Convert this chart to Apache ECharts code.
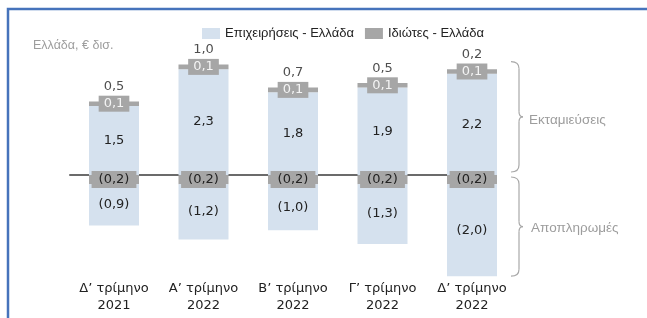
<!DOCTYPE html>
<html>
<head>
<meta charset="utf-8">
<script src="https://cdn.jsdelivr.net/npm/echarts@6/dist/echarts.min.js"></script>
<style>
    html, body { margin: 0; padding: 0; background: #fff; }
    #chart { width: 647px; height: 318px; }
</style>
</head>
<body>
<div id="chart"></div>
<script>
    // κατηγορίες (τρίμηνα)
    var categories = ['Δ’ τρίμηνο\n2021', 'Α’ τρίμηνο\n2022', 'Β’ τρίμηνο\n2022', 'Γ’ τρίμηνο\n2022', 'Δ’ τρίμηνο\n2022'];
    // εκταμιεύσεις
    var bizDisb = [1.5, 2.3, 1.8, 1.9, 2.2];
    var indDisb = [0.1, 0.1, 0.1, 0.1, 0.1];
    // αποπληρωμές
    var indRepay = [-0.2, -0.2, -0.2, -0.2, -0.2];
    var bizRepay = [-0.9, -1.2, -1.0, -1.3, -2.0];
    // καθαρή ροή (ετικέτα πάνω από τη στήλη)
    var netFlow = [0.5, 1.0, 0.7, 0.5, 0.2];
    var legendNames = ['Επιχειρήσεις - Ελλάδα', 'Ιδιώτες - Ελλάδα'];
    var sideLabels = ['Εκταμιεύσεις', 'Αποπληρωμές'];
    var unitLabel = 'Ελλάδα, € δισ.';

    var BLUE = '#d5e1ee';
    var GREY = '#a6a6a6';
    var NUM_FONT = 'DejaVu Sans';
    var TXT_FONT = 'Liberation Sans';

    // 1.5 -> "1,5", -0.2 -> "(0,2)"
    function fmt(v) {
        var s = Math.abs(v).toFixed(1).replace('.', ',');
        return v < 0 ? '(' + s + ')' : s;
    }

    var posTop = bizDisb.map(function (v, i) { return +(v + indDisb[i]).toFixed(2); });
    var negBottom = bizRepay.map(function (v, i) { return +(v + indRepay[i]).toFixed(2); });

    var chart = echarts.init(document.getElementById('chart'));

    var numLabel = {
        show: true,
        position: 'inside',
        fontFamily: NUM_FONT,
        fontSize: 13,
        color: '#222',
        formatter: function (p) { return fmt(p.value); }
    };

    var option = {
        animation: false,
        legend: {
            data: legendNames,
            left: 197,
            top: 22,
            itemWidth: 18,
            itemHeight: 11,
            itemGap: 11,
            icon: 'rect',
            textStyle: { fontFamily: TXT_FONT, fontSize: 13, color: '#222' }
        },
        grid: {
            left: 69.25,
            width: 447.5,
            top: 64.6,
            height: 211.6
        },
        xAxis: {
            type: 'category',
            data: categories,
            axisLine: { show: false },
            axisTick: { show: false },
            axisLabel: {
                interval: 0,
                margin: 4,
                fontFamily: NUM_FONT,
                fontSize: 13,
                lineHeight: 17,
                color: '#222'
            }
        },
        yAxis: {
            type: 'value',
            min: -2.2,
            max: 2.4,
            show: false,
            splitLine: { show: false }
        },
        series: [
            {
                name: legendNames[0],
                type: 'bar',
                stack: 'a',
                barWidth: 50,
                data: bizDisb,
                itemStyle: { color: BLUE },
                label: numLabel
            },
            {
                name: legendNames[1],
                type: 'bar',
                stack: 'a',
                data: indDisb,
                itemStyle: { color: GREY },
                label: Object.assign({}, numLabel, {
                    backgroundColor: GREY,
                    padding: [2, 5, 1, 5],
                    color: '#f4f4f4'
                })
            },
            {
                name: legendNames[1],
                type: 'bar',
                stack: 'a',
                data: indRepay,
                itemStyle: { color: GREY },
                label: Object.assign({}, numLabel, {
                    backgroundColor: GREY,
                    padding: [2, 7, 2, 7]
                })
            },
            {
                name: legendNames[0],
                type: 'bar',
                stack: 'a',
                data: bizRepay,
                itemStyle: { color: BLUE },
                label: numLabel
            },
            {
                // καθαρή ροή
                type: 'scatter',
                data: posTop,
                symbolSize: 0,
                silent: true,
                label: {
                    show: true,
                    position: 'top',
                    distance: 8,
                    fontFamily: NUM_FONT,
                    fontSize: 13,
                    color: '#222',
                    formatter: function (p) { return fmt(netFlow[p.dataIndex]); }
                }
            }
        ]
    };
    chart.setOption(option);

    // θέσεις από τους άξονες
    function px(i, v) { return chart.convertToPixel({ gridIndex: 0 }, [i, v]); }
    var last = categories.length - 1;
    var zeroY = px(0, 0)[1];
    var lineStart = px(0, 0)[0] - 44.75;
    var lineEnd = px(last, 0)[0] + 25;
    var topY = px(0, Math.max.apply(null, posTop))[1] - 3;
    var botY = px(0, Math.min.apply(null, negBottom))[1];
    var bx = px(last, 0)[0] + 39;

    // άγκιστρο: δύο ευθείες και τέσσερις καμπύλες
    function brace(y1, y2) {
        var ym = (y1 + y2) / 2, x1 = bx + 8, x2 = bx + 12;
        var st = { stroke: '#a8a8a8', lineWidth: 1.2, fill: null };
        return [
            { type: 'bezierCurve', shape: { x1: bx, y1: y1, cpx1: x1, cpy1: y1, x2: x1, y2: y1 + 7 }, style: st },
            { type: 'line', shape: { x1: x1, y1: y1 + 7, x2: x1, y2: ym - 5 }, style: st },
            { type: 'bezierCurve', shape: { x1: x1, y1: ym - 5, cpx1: x1, cpy1: ym, x2: x2, y2: ym }, style: st },
            { type: 'bezierCurve', shape: { x1: x2, y1: ym, cpx1: x1, cpy1: ym, x2: x1, y2: ym + 5 }, style: st },
            { type: 'line', shape: { x1: x1, y1: ym + 5, x2: x1, y2: y2 - 7 }, style: st },
            { type: 'bezierCurve', shape: { x1: x1, y1: y2 - 7, cpx1: x1, cpy1: y2, x2: bx, y2: y2 }, style: st }
        ];
    }

    var upMid = (topY + zeroY - 3) / 2;
    var lowMid = (zeroY + 2 + botY) / 2;

    var graphics = [
        {
            type: 'polyline',
            shape: { points: [[8, 318], [8, 9], [647, 9]] },
            style: { stroke: '#4673bb', lineWidth: 2.5, fill: null }
        },
        {
            type: 'text',
            x: 33,
            y: 46,
            style: { text: unitLabel, fill: '#9d9d9d', font: '12.5px "Liberation Sans"', textVerticalAlign: 'middle' }
        },
        {
            type: 'text',
            x: bx + 18,
            y: upMid + 3,
            style: { text: sideLabels[0], fill: '#9d9d9d', font: '13.5px "Liberation Sans"', textVerticalAlign: 'middle' }
        },
        {
            type: 'text',
            x: bx + 20,
            y: lowMid + 2,
            style: { text: sideLabels[1], fill: '#9d9d9d', font: '13.5px "Liberation Sans"', textVerticalAlign: 'middle' }
        }
    ].concat(brace(topY, zeroY - 3), brace(zeroY + 2, botY));

    chart.setOption({
        series: [{
            markLine: {
                silent: true,
                z: 1,
                symbol: ['none', 'none'],
                label: { show: false },
                lineStyle: { color: '#6b6b6b', width: 2, type: 'solid' },
                data: [[{ coord: [0, 0], x: lineStart }, { coord: [last, 0], x: lineEnd }]]
            }
        }],
        graphic: graphics
    });
</script>
</body>
</html>
